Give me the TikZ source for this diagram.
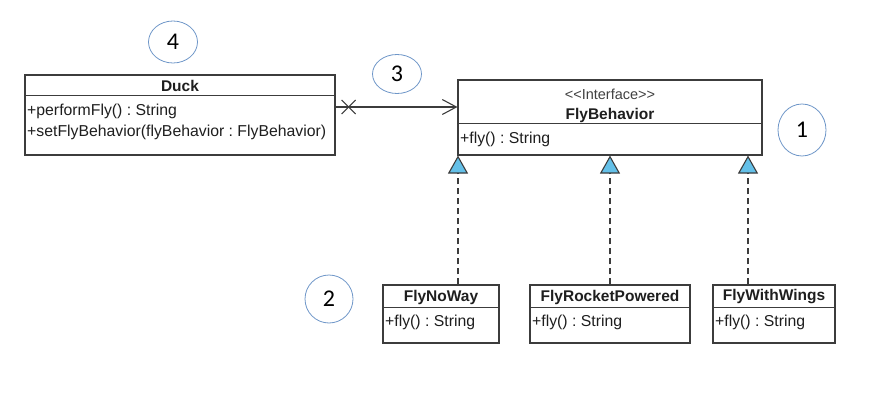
\documentclass[tikz,border=0pt]{standalone}
\usepackage{fontspec}
\setmainfont{Liberation Sans}
\newfontfamily\calib{Carlito}
\usetikzlibrary{arrows.meta,shapes.geometric}
\definecolor{linegray}{RGB}{60,60,60}
\definecolor{skyb}{RGB}{100,192,232}
\definecolor{ringblue}{RGB}{110,150,200}
\definecolor{txt}{RGB}{30,30,30}
\frenchspacing
\tikzset{
  umlbox/.style={draw=linegray, line width=1.1pt, inner sep=0pt, rectangle},
  sepline/.style={draw=linegray, line width=1.1pt},
  ctitle/.style={inner sep=0pt, text=txt, font=\fontsize{15.5}{17}\selectfont\bfseries},
  cstereo/.style={inner sep=0pt, text=txt!85, font=\fontsize{14.5}{16}\selectfont},
  member/.style={inner sep=0pt, anchor=west, text=txt, font=\fontsize{15.8}{18}\selectfont},
  ring/.style={draw=ringblue, line width=0.8pt, ellipse, inner sep=0pt, font=\calib\fontsize{24}{26}\selectfont, text=black},
  assoc/.style={draw=linegray, line width=1.1pt, -{Straight Barb[length=14pt,width=15pt,line width=1.1pt]}},
  gen/.style={draw=linegray, line width=1.1pt, dash pattern=on 6pt off 4pt, -{Triangle[length=18pt,width=20pt,fill=skyb,line width=1.1pt]}},
}
\begin{document}
\begin{tikzpicture}[x=1pt,y=-1pt]
\useasboundingbox (0,0) rectangle (895,412);

% Duck
\node[umlbox, minimum width=310pt, minimum height=80pt] (duck) at (180,115) {};
\draw[sepline] ([yshift=-21pt]duck.north west) -- ([yshift=-21pt]duck.north east);
\node[ctitle] (duckt) at (180,86) {Duck};
\node[member] (duckm1) at (27,111) {+performFly() : String};
\node[member] (duckm2) at (27,132) {+setFlyBehavior(flyBehavior : FlyBehavior)};

% FlyBehavior
\node[umlbox, minimum width=304pt, minimum height=75pt] (fb) at (610,117.5) {};
\draw[sepline] ([yshift=-44pt]fb.north west) -- ([yshift=-44pt]fb.north east);
\node[cstereo] (fbs) at (610,94) {<{}<Interface>{}>};
\node[ctitle] (fbt) at (610,115) {FlyBehavior};
\node[member] (fbm) at (460,139) {+fly() : String};

% FlyNoWay
\node[umlbox, minimum width=116pt, minimum height=58pt] (nw) at (441,314) {};
\draw[sepline] ([yshift=-23pt]nw.north west) -- ([yshift=-23pt]nw.north east);
\node[ctitle] (nwt) at (441,297) {FlyNoWay};
\node[member] (nwm) at (385,322) {+fly() : String};

% FlyRocketPowered
\node[umlbox, minimum width=160pt, minimum height=58pt] (rp) at (610,314) {};
\draw[sepline] ([yshift=-23pt]rp.north west) -- ([yshift=-23pt]rp.north east);
\node[ctitle] (rpt) at (610,297) {FlyRocketPowered};
\node[member] (rpm) at (532,322) {+fly() : String};

% FlyWithWings
\node[umlbox, minimum width=122pt, minimum height=58pt] (ww) at (774,314) {};
\draw[sepline] ([yshift=-23pt]ww.north west) -- ([yshift=-23pt]ww.north east);
\node[ctitle] (wwt) at (774,297) {FlyWithWings};
\node[member] (wwm) at (715,322) {+fly() : String};

% association Duck -> FlyBehavior
\coordinate (astart) at ([yshift=8pt]duck.east);
\coordinate (aend) at (astart -| fb.west);
\draw[assoc] (astart) -- (aend);
\coordinate (xm) at ([xshift=13pt]astart);
\draw[linegray, line width=1.1pt] ([xshift=-7pt,yshift=-7pt]xm) -- ([xshift=7pt,yshift=7pt]xm);
\draw[linegray, line width=1.1pt] ([xshift=-7pt,yshift=7pt]xm) -- ([xshift=7pt,yshift=-7pt]xm);

% generalizations
\coordinate (g1) at ([xshift=17pt]nw.north);
\coordinate (g2) at (rp.north);
\coordinate (g3) at ([xshift=-26pt]ww.north);
\draw[gen] (g1) -- (g1 |- fb.south);
\draw[gen] (g2) -- (g2 |- fb.south);
\draw[gen] (g3) -- (g3 |- fb.south);

% numbered rings
\node[ring, minimum width=49pt, minimum height=42pt] (c4) at (173,42) {4};
\node[ring, minimum width=49pt, minimum height=39pt] (c3) at (397,74) {3};
\node[ring, minimum width=48pt, minimum height=52pt] (c1) at (802,130) {1};
\node[ring, minimum width=48pt, minimum height=48pt] (c2) at (329,299) {2};
\end{tikzpicture}
\end{document}
